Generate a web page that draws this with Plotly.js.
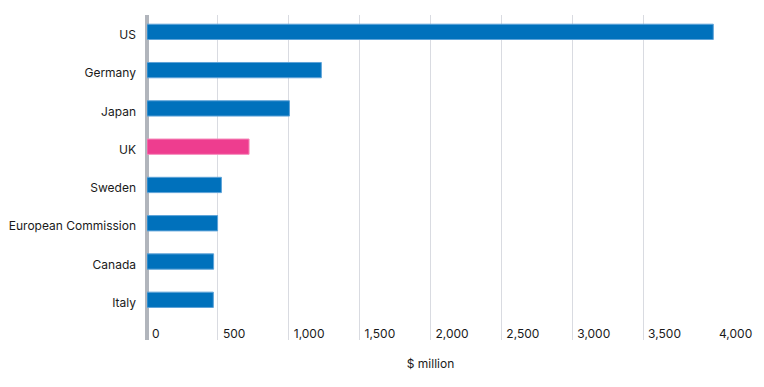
<!DOCTYPE html>
<html>
<head>
<meta charset="utf-8">
<script src="https://cdn.plot.ly/plotly-3.0.1.min.js"></script>
<style>html,body{margin:0;padding:0;background:#fff;}#chart{width:764px;height:387px;}</style>
</head>
<body>
<div id="chart"></div>
<script>
var categories = ["US", "Germany", "Japan", "UK", "Sweden", "European Commission", "Canada", "Italy"];
var values = [3995, 1230, 1005, 720, 525, 498, 470, 468];
var barColors = ["#0071bc", "#0071bc", "#0071bc", "#ee3d8f", "#0071bc", "#0071bc", "#0071bc", "#0071bc"];
var lineColors = ["#5ea3d8", "#5ea3d8", "#5ea3d8", "#f58bbb", "#5ea3d8", "#5ea3d8", "#5ea3d8", "#5ea3d8"];
var xTicks = [0, 500, 1000, 1500, 2000, 2500, 3000, 3500, 4000];
var xTickText = ["0", "500", "1,000", "1,500", "2,000", "2,500", "3,000", "3,500", "4,000"];

var trace = {
  type: "bar",
  orientation: "h",
  y: categories,
  x: values,
  width: 0.4,
  marker: {color: barColors, line: {color: lineColors, width: 1}},
  hoverinfo: "x+y"
};

var layout = {
  width: 764, height: 387,
  margin: {l: 147, r: 50, t: 15, b: 47},
  paper_bgcolor: "#fff", plot_bgcolor: "#fff",
  font: {family: "Inter, 'Noto Sans', sans-serif", size: 12, color: "#1a1a1a"},
  showlegend: false,
  xaxis: {
    range: [0, 4000],
    tickvals: xTicks,
    ticktext: xTickText,
    showgrid: true,
    gridcolor: "#d9dbe1",
    gridwidth: 1,
    zeroline: true,
    zerolinecolor: "#b1b5bc",
    zerolinewidth: 4,
    showline: false,
    ticks: "",
    ticklabelposition: "inside right",
    ticklabeloverflow: "allow",
    ticklabelshift: 5,
    ticklabelstandoff: -6,
    tickfont: {size: 12, color: "#1a1a1a"},
    title: {text: "$ million", font: {size: 12, color: "#1a1a1a"}, standoff: 20},
    fixedrange: true
  },
  yaxis: {
    categoryorder: "array",
    categoryarray: categories,
    range: [8.05, -0.44],
    showgrid: false,
    zeroline: false,
    showline: false,
    ticks: "",
    ticklabelstandoff: 10,
    ticklabelshift: -3,
    tickfont: {size: 12, color: "#1a1a1a"},
    fixedrange: true
  }
};

Plotly.newPlot("chart", [trace], layout, {displayModeBar: false, staticPlot: true});
</script>
</body>
</html>
